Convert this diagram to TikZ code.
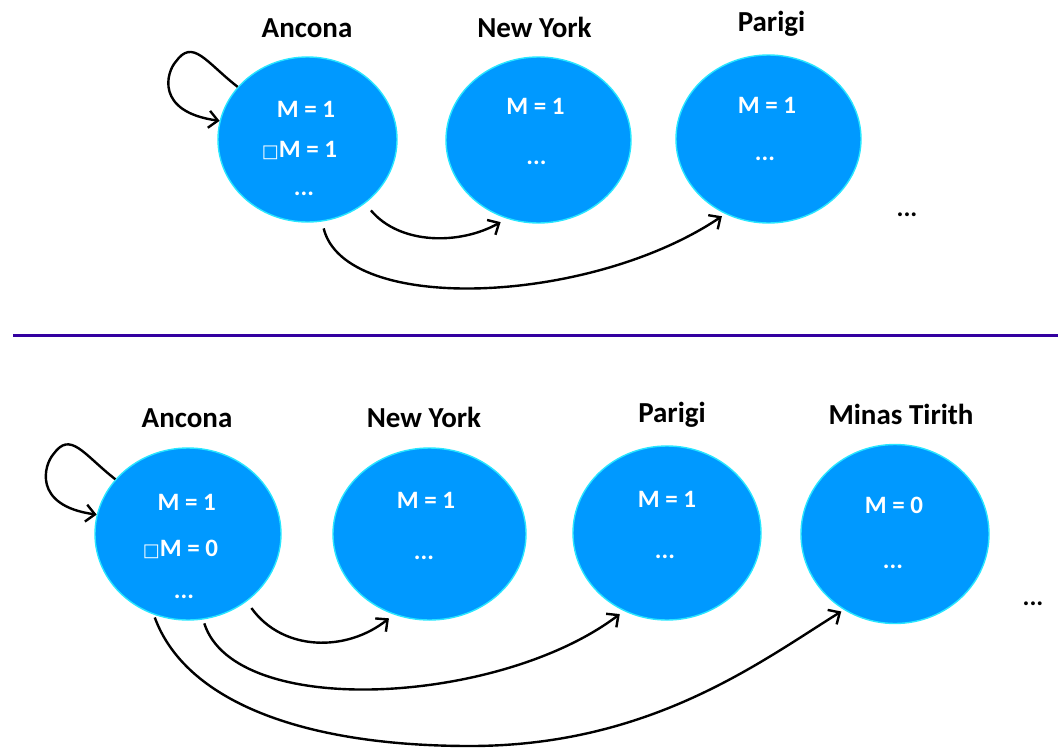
\documentclass[tikz,border=0pt]{standalone}
\usepackage{fontspec}
\setmainfont{Carlito}
\newfontfamily\symfont{DejaVu Sans}
\usetikzlibrary{arrows.meta,shapes.geometric}
\definecolor{cityblue}{RGB}{0,153,255}
\definecolor{cityrim}{RGB}{40,230,255}
\definecolor{rulecol}{RGB}{51,0,160}
\newcommand{\modalbox}{{\symfont\fontsize{18}{18}\selectfont □}}
\tikzset{
  city/.style={ellipse, fill=cityblue, draw=cityrim, line width=1.4pt, inner sep=0pt},
  lbl/.style={font=\fontsize{29}{30}\selectfont\bfseries, anchor=base, inner sep=0pt},
  val/.style={font=\fontsize{25}{26}\selectfont\bfseries, text=white, anchor=base, inner sep=0pt},
  more/.style={font=\fontsize{26}{26}\selectfont\bfseries, anchor=base, inner sep=0pt},
  link/.style={line width=2.4pt, -{Straight Barb[length=9pt,width=17pt]}},
  rule/.style={line width=3pt, draw=rulecol},
}
\begin{document}
\begin{tikzpicture}[x=1pt,y=-1pt]
\useasboundingbox (0,0) rectangle (1058,750);

% ---------- first world ----------
\node[city, minimum width=179pt, minimum height=165pt] (ta) at (307.5,139.5) {};
\node[city, minimum width=185pt, minimum height=166pt] (tn) at (538.5,140) {};
\node[city, minimum width=185pt, minimum height=168pt] (tp) at (768.5,139) {};

\node[lbl] (tal) at (307,37) {Ancona};
\node[lbl] (tnl) at (534.5,37) {New York};
\node[lbl] (tpl) at (771.5,31) {Parigi};

\node[val] (tav1) at (306,117) {M = 1};
\node[val] (tav2) at (299.5,157) {\modalbox M = 1};
\node[val] (tav3) at (304,195) {...};
\node[val] (tnv1) at (535.5,114) {M = 1};
\node[val] (tnv2) at (536.5,164) {...};
\node[val] (tpv1) at (767,113) {M = 1};
\node[val] (tpv2) at (765,160) {...};
\node[more] (tmore) at (907,216) {...};

\draw[link] (ta.143) .. controls +(-32,-25) and +(17,-24) .. ++(-62,-25)
  .. controls +(-9,10) and +(-65,-9) .. (ta.168);
\draw[link, shorten <=9pt, shorten >=7pt] (ta.-48) .. controls (400,245) and (460,245) .. (tn.-112);
\draw[link, shorten <=7pt, shorten >=4pt] (ta.-80) .. controls (345,315) and (590,305) .. (tp.-120);

% ---------- separator ----------
\coordinate (rl) at (13,335);
\coordinate (rr) at (1058,335);
\draw[rule] (rl) -- (rr);

% ---------- second world ----------
\node[city, minimum width=186pt, minimum height=172pt] (ba) at (188,534) {};
\node[city, minimum width=193pt, minimum height=172pt] (bn) at (429.5,534) {};
\node[city, minimum width=188pt, minimum height=174pt] (bp) at (667,533) {};
\node[city, minimum width=188pt, minimum height=179pt] (bm) at (895,534) {};

\node[lbl] (bal) at (187,427) {Ancona};
\node[lbl] (bnl) at (424,427) {New York};
\node[lbl] (bpl) at (672,422) {Parigi};
\node[lbl] (bml) at (901,424) {Minas Tirith};

\node[val] (bav1) at (186.7,510) {M = 1};
\node[val] (bav2) at (180.5,556) {\modalbox M = 0};
\node[val] (bav3) at (184,598) {...};
\node[val] (bnv1) at (426,508) {M = 1};
\node[val] (bnv2) at (424,559) {...};
\node[val] (bpv1) at (667,507) {M = 1};
\node[val] (bpv2) at (665,558) {...};
\node[val] (bmv1) at (894,513) {M = 0};
\node[val] (bmv2) at (893,568) {...};
\node[more] (bmore) at (1033,605) {...};

\draw[link] (ba.143) .. controls +(-32,-25) and +(17,-24) .. ++(-62,-25)
  .. controls +(-9,10) and +(-65,-9) .. (ba.168);
\draw[link, shorten <=8pt, shorten >=6pt] (ba.-49) .. controls (283,652) and (347,652) .. (bn.-114);
\draw[link, shorten <=4pt, shorten >=5pt] (ba.-80) .. controls (235,720) and (500,705) .. (bp.-119);
\coordinate (low) at (470,746);
\draw[link, shorten <=3pt, shorten >=3pt] (ba.-113) .. controls (185,700) and (300,746) .. (low)
  .. controls (650,746) and (760,662) .. (bm.-124);
\end{tikzpicture}
\end{document}
